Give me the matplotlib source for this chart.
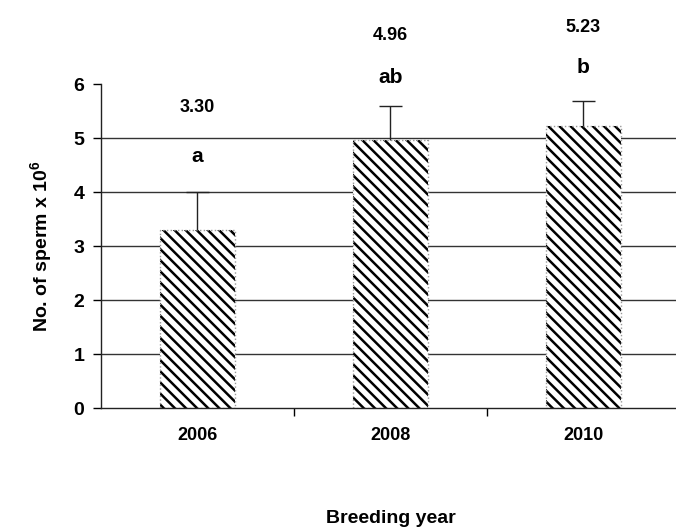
import matplotlib
matplotlib.use("Agg")
import matplotlib.pyplot as plt
import numpy as np

# data
years = ["2006", "2008", "2010"]
means = [3.30, 4.96, 5.23]
err_up = [0.70, 0.63, 0.45]
mean_labels = ["3.30", "4.96", "5.23"]
letters = ["a", "ab", "b"]
mean_label_y = [5.56, 6.90, 7.04]
letter_y = [4.65, 6.13, 6.31]

plt.rcParams['font.family'] = ['Liberation Sans', 'DejaVu Sans']
plt.rcParams['font.weight'] = 'bold'
plt.rcParams['axes.labelweight'] = 'bold'
plt.rcParams['mathtext.fontset'] = 'custom'
plt.rcParams['mathtext.rm'] = 'Liberation Sans:bold'
plt.rcParams['mathtext.default'] = 'rm'
plt.rcParams['hatch.linewidth'] = 1.8

fig = plt.figure(figsize=(6.76, 5.32), dpi=100)
ax = fig.add_axes([0.1494, 0.233, 0.8506, 0.609])

x = np.arange(len(years))
for yv in range(1, 6):
    ax.axhline(yv, color='#333333', lw=1.0, zorder=0)

# hatched fill (black stripes), then dotted grey outline
ax.bar(x, means, width=0.39, color='white', edgecolor='black',
       linewidth=0, hatch='\\\\\\', zorder=2)
ax.bar(x, means, width=0.39, fill=False, edgecolor='#999999',
       linestyle=':', linewidth=1.0, zorder=2.5)

# upper error bars only
tops = np.array(means) + np.array(err_up)
ax.vlines(x, means, tops, color='#222222', lw=1.0, zorder=3)
ax.hlines(tops, x - 0.06, x + 0.06, color='#222222', lw=1.0, zorder=3)

for i in range(len(years)):
    ax.text(x[i], mean_label_y[i], mean_labels[i], ha='center', va='center',
            fontsize=13, clip_on=False)
    ax.text(x[i], letter_y[i], letters[i], ha='center', va='center',
            fontsize=15, clip_on=False)

ax.set_xlim(-0.5, 2.48)
ax.set_ylim(0, 6)
ax.set_yticks(range(0, 7))
ax.set_xticks(x)
ax.set_xticklabels(years)
ax.set_xticks([0.5, 1.5], minor=True)
ax.tick_params(axis='x', which='major', length=0, pad=14, labelsize=13)
ax.tick_params(axis='x', which='minor', length=6, width=1.0, direction='out')
ax.tick_params(axis='y', length=6, width=1.0, pad=6, labelsize=14)

for s in ['top', 'right']:
    ax.spines[s].set_visible(False)
for s in ['left', 'bottom']:
    ax.spines[s].set_linewidth(1.0)
    ax.spines[s].set_color('#222222')

ax.set_ylabel('No. of sperm x 10$^{6}$', fontsize=14, labelpad=14)
fig.text(0.578, 0.026, 'Breeding year', ha='center', va='center', fontsize=14)

fig.savefig('out.png', dpi=100)
